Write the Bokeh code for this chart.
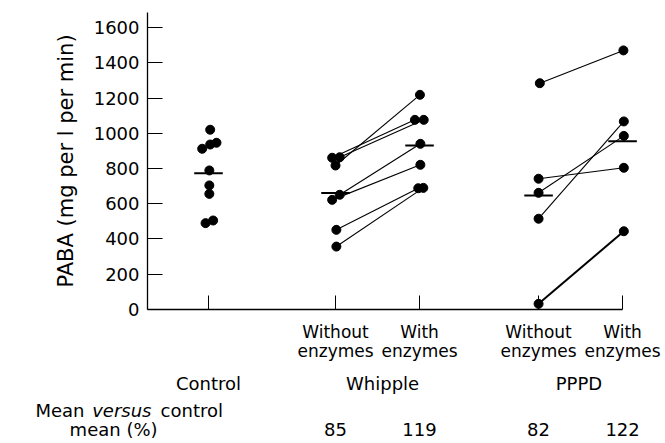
import numpy as np
from bokeh.plotting import figure
from bokeh.models import ColumnDataSource, Range1d, LinearAxis, FixedTicker, CustomJSTickFormatter
from bokeh.core.properties import value
from bokeh.embed import file_html
from bokeh.resources import INLINE

# ---------------- data ----------------
y_ticks = [0, 200, 400, 600, 800, 1000, 1200, 1400, 1600]
y_label = "PABA (mg per l per min)"

groups = ["Control", "Whipple", "PPPD"]
conditions = ["Without\nenzymes", "With\nenzymes"]

control_vals = [1020, 946, 936, 912, 789, 704, 656, 505, 490]
control_jit = [0.02, 0.095, 0.02, -0.075, 0.01, 0.01, 0.01, 0.055, -0.035]

whipple_without = [861, 864, 817, 651, 622, 452, 357]
whipple_without_jit = [-0.04, 0.05, 0.0, 0.05, -0.04, 0.01, 0.01]
whipple_with = [1076, 1076, 1218, 940, 821, 688, 690]
whipple_with_jit = [-0.055, 0.05, 0.005, 0.01, 0.01, -0.015, 0.045]

pppd_without = [1284, 742, 662, 515, 32]
pppd_without_jit = [0.015, 0.0, 0.0, 0.0, 0.0]
pppd_with = [1470, 804, 985, 1067, 444]
pppd_with_jit = [0.01, 0.015, 0.015, 0.015, 0.015]

pct_labels = ["85", "119", "82", "122"]

# ---------------- layout constants ----------------
FONT_NAME = "DejaVu Sans"
FONT = value(FONT_NAME)
pos = [1.0, 2.512, 3.512, 4.929, 5.929]   # control, W-without, W-with, P-without, P-with
x_left = 0.274                            # where the axes meet
y_top = 1685
X_RANGE = (-1.476, 6.440)
Y_RANGE = (-760.3, 1753.2)
ROW_COND1 = -129
ROW_COND2 = -233
ROW_GROUP = -420
ROW_MEAN1 = -571
ROW_MEAN2 = -680

p = figure(width=665, height=443, output_backend="svg", toolbar_location=None,
           x_range=Range1d(*X_RANGE), y_range=Range1d(*Y_RANGE),
           x_axis_type=None, min_border=0)
p.outline_line_color = None
p.grid.visible = False
p.background_fill_color = "white"
p.border_fill_color = "white"

# y axis
ya = p.yaxis[0]
ya.fixed_location = x_left
ya.bounds = (0, y_top)
ya.ticker = FixedTicker(ticks=y_ticks)
ya.major_tick_in = 15
ya.major_tick_out = 0
ya.minor_tick_in = 0
ya.minor_tick_out = 0
ya.axis_line_width = 1.3
ya.axis_line_color = "black"
ya.major_tick_line_color = "black"
ya.major_tick_line_width = 1
ya.major_label_standoff = 8
ya.major_label_text_font = FONT_NAME
ya.major_label_text_font_size = "18px"
ya.major_label_text_color = "black"
ya.axis_label = y_label
ya.axis_label_text_font = FONT_NAME
ya.axis_label_text_font_size = "21px"
ya.axis_label_text_font_style = "normal"
ya.axis_label_text_color = "black"
ya.axis_label_standoff = 13

# x axis (baseline with upward ticks)
xa = LinearAxis(fixed_location=0, ticker=FixedTicker(ticks=pos), bounds=(x_left, pos[-1]),
                major_tick_in=14, major_tick_out=0, minor_tick_in=0, minor_tick_out=0,
                axis_line_width=1.3, axis_line_color="black", major_tick_line_color="black",
                formatter=CustomJSTickFormatter(code="return ''"))
p.add_layout(xa, "below")

# connecting lines
def pairs(a, aj, xa_, b, bj, xb_):
    return dict(x0=[xa_ + j for j in aj], y0=a, x1=[xb_ + j for j in bj], y1=b)

w = pairs(whipple_without, whipple_without_jit, pos[1], whipple_with, whipple_with_jit, pos[2])
pp = pairs(pppd_without, pppd_without_jit, pos[3], pppd_with, pppd_with_jit, pos[4])
seg = {k: w[k] + pp[k] for k in w}
widths = [1.1] * len(seg["x0"])
widths[-1] = 2.0
seg["lw"] = widths
p.segment(x0="x0", y0="y0", x1="x1", y1="y1", line_width="lw", line_color="black",
          source=ColumnDataSource(seg))

# points
xs, ys = [], []
for vals, jit, x in [(control_vals, control_jit, pos[0]),
                     (whipple_without, whipple_without_jit, pos[1]),
                     (whipple_with, whipple_with_jit, pos[2]),
                     (pppd_without, pppd_without_jit, pos[3]),
                     (pppd_with, pppd_with_jit, pos[4])]:
    xs += [x + j for j in jit]
    ys += vals
p.scatter(x=xs, y=ys, size=9, color="black")

# mean lines
means = [float(np.mean(v)) for v in [control_vals, whipple_without, whipple_with, pppd_without, pppd_with]]
hw = 0.17
p.segment(x0=[x - hw for x in pos], y0=means, x1=[x + hw for x in pos], y1=means,
          line_width=2, line_color="black")

# condition labels
c1 = [c.split("\n")[0] for c in conditions] * 2
c2 = [c.split("\n")[1] for c in conditions] * 2
p.text(x=pos[1:], y=[ROW_COND1] * 4, text=c1, text_font=FONT, text_font_size="17px",
       text_align="center", text_baseline="alphabetic", text_color="black")
p.text(x=pos[1:], y=[ROW_COND2] * 4, text=c2, text_font=FONT, text_font_size="17px",
       text_align="center", text_baseline="alphabetic", text_color="black")

# group labels
gx = [pos[0], (pos[1] + pos[2]) / 2 + 0.06, (pos[3] + pos[4]) / 2 - 0.02]
p.text(x=gx, y=[ROW_GROUP] * 3, text=groups, text_font=FONT, text_font_size="18px",
       text_align="center", text_baseline="alphabetic", text_color="black")

# mean versus control
p.text(x=[-1.060], y=[ROW_MEAN1], text=["Mean"], text_font=FONT, text_font_size="18px",
       text_align="left", text_baseline="alphabetic", text_color="black")
p.text(x=[-0.385], y=[ROW_MEAN1], text=["versus"], text_font=FONT, text_font_size="18px",
       text_font_style="italic", text_align="left", text_baseline="alphabetic", text_color="black")
p.text(x=[0.43], y=[ROW_MEAN1], text=["control"], text_font=FONT, text_font_size="18px",
       text_align="left", text_baseline="alphabetic", text_color="black")
p.text(x=[-0.13], y=[ROW_MEAN2], text=["mean (%)"], text_font=FONT, text_font_size="18px",
       text_align="center", text_baseline="alphabetic", text_color="black")
p.text(x=pos[1:], y=[ROW_MEAN2] * 4, text=pct_labels, text_font=FONT, text_font_size="18px",
       text_align="center", text_baseline="alphabetic", text_color="black")

open("out.html", "w").write(file_html(p, INLINE))
